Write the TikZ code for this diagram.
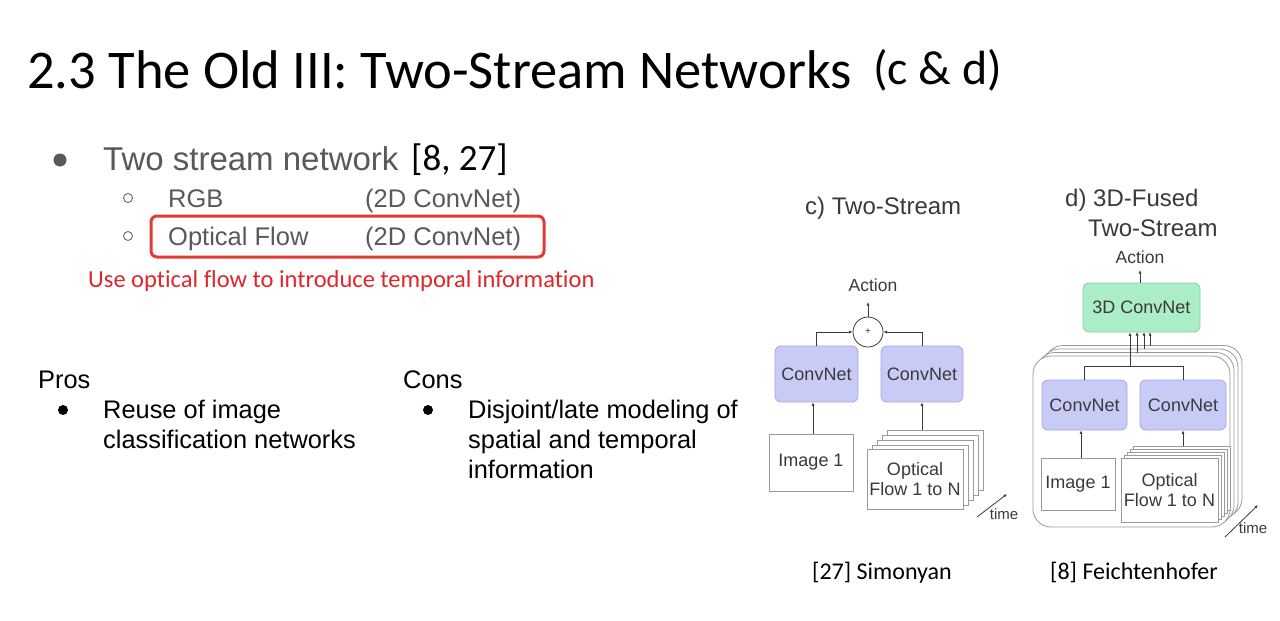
\documentclass[tikz,border=0pt]{standalone}
\usepackage{fontspec}
\setmainfont{Liberation Sans}
\newfontfamily\calfont[Ligatures=NoCommon]{Carlito}
\usetikzlibrary{arrows.meta}
\definecolor{slgray}{HTML}{595959}
\definecolor{dgtext}{HTML}{3A3A3A}
\definecolor{hlred}{HTML}{E53935}
\definecolor{txred}{HTML}{E0262B}
\definecolor{lavfill}{HTML}{C9CBF7}
\definecolor{lavline}{HTML}{A3A6E6}
\definecolor{grnfill}{HTML}{ABEDC6}
\definecolor{grnline}{HTML}{86D3A5}
\definecolor{boxgray}{HTML}{9A9A9A}
\newcommand{\fsz}[1]{\fontsize{#1}{#1}\selectfont}
\tikzset{
  txt/.style={inner sep=0pt, anchor=base west},
  conv/.style={draw=lavline, fill=lavfill, rounded corners=6pt, line width=0.8pt, inner sep=0pt, text=dgtext, font=\fsz{18}},
  tdconv/.style={draw=grnline, fill=grnfill, rounded corners=6pt, line width=0.8pt, inner sep=0pt, text=dgtext, font=\fsz{18}},
  imgbox/.style={draw=boxgray, fill=white, line width=0.8pt, inner sep=0pt, text=dgtext, font=\fsz{18}, align=center},
  layer/.style={draw=boxgray, fill=white, line width=0.8pt},
  conn/.style={draw=dgtext, line width=0.8pt},
  arr/.style={conn, -{Latex[length=3.5pt,width=3pt]}},
  dlabel/.style={inner sep=0pt, text=dgtext},
}
\begin{document}
\begin{tikzpicture}[x=1pt,y=-1pt]
\useasboundingbox[fill=white] (0,0) rectangle (1280,621);

% Title
\node[txt, font=\calfont\fsz{54.5}] (title) at (27,88) {2.3 The Old III: Two-Stream Networks};
\node[txt, font=\calfont\fsz{48}] (titlecd) at (873,84) {(c \& d)};

% Bullets
\fill[slgray] (60,160) circle (6.5);
\node[txt, text=slgray, font=\fsz{33}] (tsn) at (103,170) {Two stream network};
\node[txt, font=\calfont\fsz{37}] (refs) at (411,170) {[8, 27]};
\draw[slgray, line width=0.8pt] (128,198) circle (4.5);
\draw[slgray, line width=0.8pt] (128,236) circle (4.5);
\node[txt, text=slgray, font=\fsz{25.5}] (rgb) at (168,207) {RGB};
\node[txt, text=slgray, font=\fsz{25.5}] (rgb2d) at (365,207) {(2D ConvNet)};
\node[txt, text=slgray, font=\fsz{25.5}] (of) at (168,245) {Optical Flow};
\node[txt, text=slgray, font=\fsz{25.5}] (of2d) at (365,245) {(2D ConvNet)};
\draw[hlred, line width=3pt, rounded corners=6pt] (151,216) rectangle (544,257);
\node[txt, text=txred, font=\calfont\fsz{24.5}] (redtxt) at (88,287) {Use optical flow to introduce temporal information};

% Pros / Cons
\node[txt, font=\fsz{25.4}] (pros) at (38,388) {Pros};
\fill[black] (63,410) circle (5);
\node[txt, font=\fsz{25.4}] (pros1) at (103,418) {Reuse of image};
\node[txt, font=\fsz{25.4}] (pros2) at (103,448) {classification networks};
\node[txt, font=\fsz{25.4}] (cons) at (403,388) {Cons};
\fill[black] (428,410) circle (5);
\node[txt, font=\fsz{25.4}] (cons1) at (468,418) {Disjoint/late modeling of};
\node[txt, font=\fsz{25.4}] (cons2) at (468,448) {spatial and temporal};
\node[txt, font=\fsz{25.4}] (cons3) at (468,478) {information};

% ===== c) Two-Stream =====
\node[txt, text=dgtext, font=\fsz{24}] (ctitle) at (805,214) {c) Two-Stream};
\node[dlabel, font=\fsz{17.5}] (actc) at (873,285) {Action};
\node[draw=dgtext, fill=white, circle, line width=0.8pt, minimum size=30pt, inner sep=0pt, text=dgtext, font=\fsz{10}] (plus) at (868,332) {+};
\node[conv, minimum width=83pt, minimum height=56pt] (convcL) at (816.5,374) {ConvNet};
\node[conv, minimum width=82pt, minimum height=56pt] (convcR) at (922,374) {ConvNet};
\node[imgbox, minimum width=84pt, minimum height=57pt] (imgc) at (811,462.5) {Image 1};
\foreach \k in {4,3,2,1}
  \draw[layer] (867+5*\k,450-5*\k) rectangle (963+5*\k,510-5*\k);
\node[imgbox, minimum width=96pt, minimum height=60pt] (flowc) at (915,479) {Optical\\[2pt]Flow 1 to N};
\draw[arr] (convcL.north) |- (plus.west);
\draw[arr] (convcR.north) |- (plus.east);
\draw[arr] (plus.north) -- (plus.north |- 0,302);
\draw[arr] (imgc.north -| 813,0) -- (convcL.south -| 813,0);
\draw[arr] (convcR.south |- 0,430) -- (convcR.south);
\coordinate (tc0) at (977,517);
\coordinate (tc1) at (1007,494);
\draw[arr] (tc0) -- (tc1);
\node[dlabel, font=\fsz{15}] (timec) at (1004,514) {time};
\node[txt, font=\calfont\fsz{24}] (refc) at (812,579) {[27] Simonyan};

% ===== d) 3D-Fused Two-Stream =====
\node[txt, text=dgtext, font=\fsz{24}] (dtitle1) at (1065,206) {d) 3D-Fused};
\node[txt, text=dgtext, font=\fsz{24}] (dtitle2) at (1088,236) {Two-Stream};
\node[dlabel, font=\fsz{17.5}] (actd) at (1140,257) {Action};
\node[tdconv, minimum width=117pt, minimum height=49pt] (tdc) at (1141.5,307.5) {3D ConvNet};
\draw[arr] (tdc.north -| 1140,0) -- (1140,270);
\foreach \k in {3,2,1}
  \draw[layer, rounded corners=18pt] (1033+4*\k,356-3.5*\k) rectangle (1230+4*\k,527-3.5*\k);
\draw[layer, rounded corners=18pt] (1033,356) rectangle (1230,527);
\node[conv, minimum width=85pt, minimum height=50pt] (convdL) at (1084.5,405) {ConvNet};
\node[conv, minimum width=86pt, minimum height=50pt] (convdR) at (1183,405) {ConvNet};
\node[imgbox, minimum width=74pt, minimum height=52pt] (imgd) at (1078,484) {Image 1};
\foreach \k in {4,3,2,1}
  \draw[layer] (1121+3*\k,458-3*\k) rectangle (1218+3*\k,522-3*\k);
\node[imgbox, minimum width=97pt, minimum height=64pt] (flowd) at (1169.5,490) {Optical\\[2pt]Flow 1 to N};
\draw[conn] (convdL.north) -- ++(0,-13) -| (convdR.north);
\coordinate (jn) at (1130,367);
\draw[arr] (jn) -- (jn |- tdc.south);
\draw[arr] (1137,352.5) -- (1137,332);
\draw[arr] (1144,349) -- (1144,332);
\draw[arr] (1150,345.5) -- (1150,332);
\draw[arr] (imgd.north -| 1081,0) -- (convdL.south -| 1081,0);
\draw[arr] (convdR.south |- 0,446) -- (convdR.south);
\coordinate (td0) at (1225,537);
\coordinate (td1) at (1258,505);
\draw[arr] (td0) -- (td1);
\node[dlabel, font=\fsz{15}] (timed) at (1253,528) {time};
\node[txt, font=\calfont\fsz{24}] (refd) at (1050,579) {[8] Feichtenhofer};
\end{tikzpicture}
\end{document}
